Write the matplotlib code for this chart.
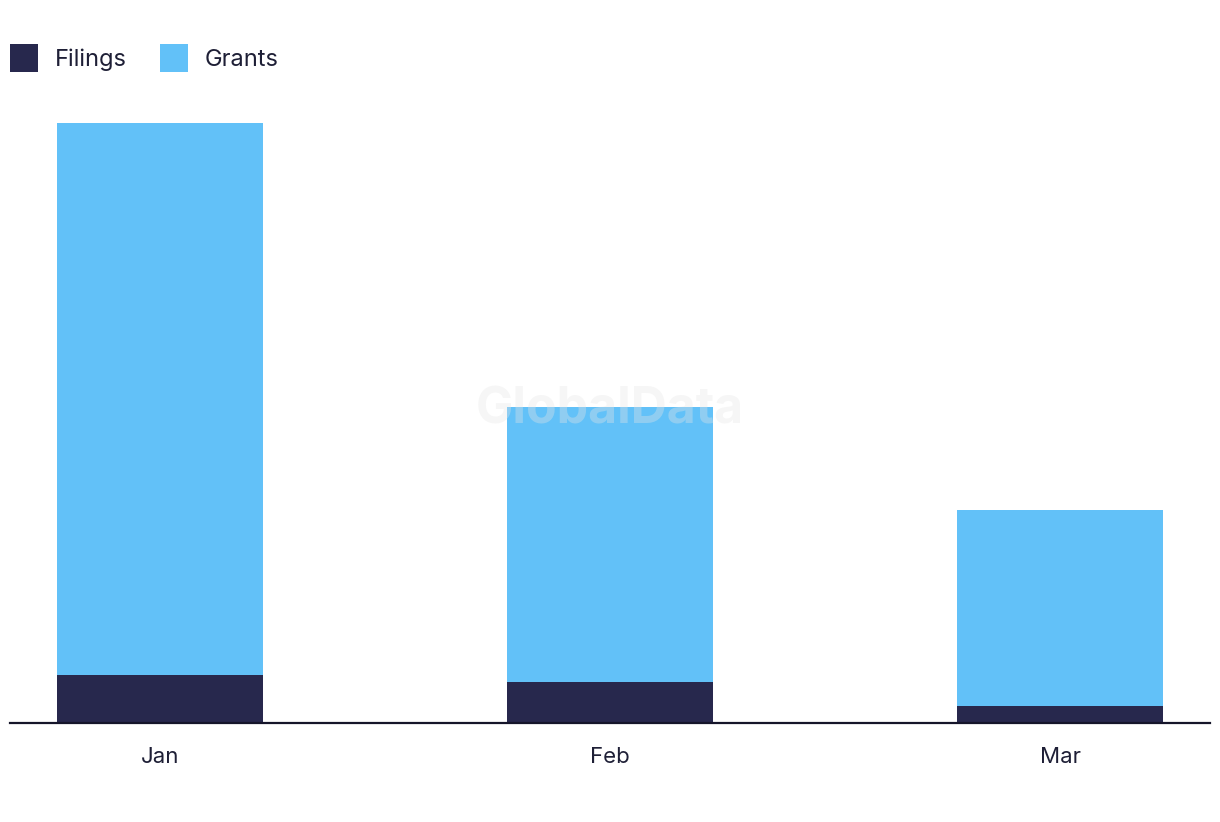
import matplotlib.pyplot as plt
import numpy as np

plt.rcParams['font.family'] = ['Inter', 'DejaVu Sans']

# data
months = ['Jan', 'Feb', 'Mar']
filings = [14, 12, 5]
grants = [161, 80, 57]

c_fil = '#27284D'
c_gra = '#62C1F8'
c_txt = '#1E1F36'

fig = plt.figure(figsize=(12.2, 8.22), dpi=100)
ax = fig.add_axes([10/1220, 99/822, 1200/1220, 623/822])

x = np.arange(len(months))
ax.bar(x, filings, width=0.458, color=c_fil, label='Filings', zorder=2)
ax.bar(x, grants, width=0.458, bottom=filings, color=c_gra, label='Grants', zorder=2)

ax.set_xlim(-0.333, 2.333)
ax.set_ylim(0, 181.6)
ax.set_xticks(x)
ax.set_xticklabels(months, fontsize=16, color=c_txt)
ax.tick_params(axis='x', length=0, pad=17)
ax.set_yticks([])
for s in ['top', 'right', 'left']:
    ax.spines[s].set_visible(False)
ax.spines['bottom'].set_color('#15152A')
ax.spines['bottom'].set_linewidth(1.6)
ax.spines['bottom'].set_zorder(3)

# watermark
fig.text(0.5, 1 - 410/822, 'GlobalData', fontsize=36, fontweight='bold', color='#e6e6e6',
         alpha=0.35, ha='center', va='center', zorder=10)

leg = fig.legend(loc='upper left', bbox_to_anchor=(10/1220, 1 - 44/822), ncol=2, frameon=False,
                 fontsize=17, handlelength=1.2, handleheight=1.45, handletextpad=0.7,
                 columnspacing=1.4, borderpad=0, borderaxespad=0, labelcolor=c_txt)

fig.savefig('out.png', dpi=100)
